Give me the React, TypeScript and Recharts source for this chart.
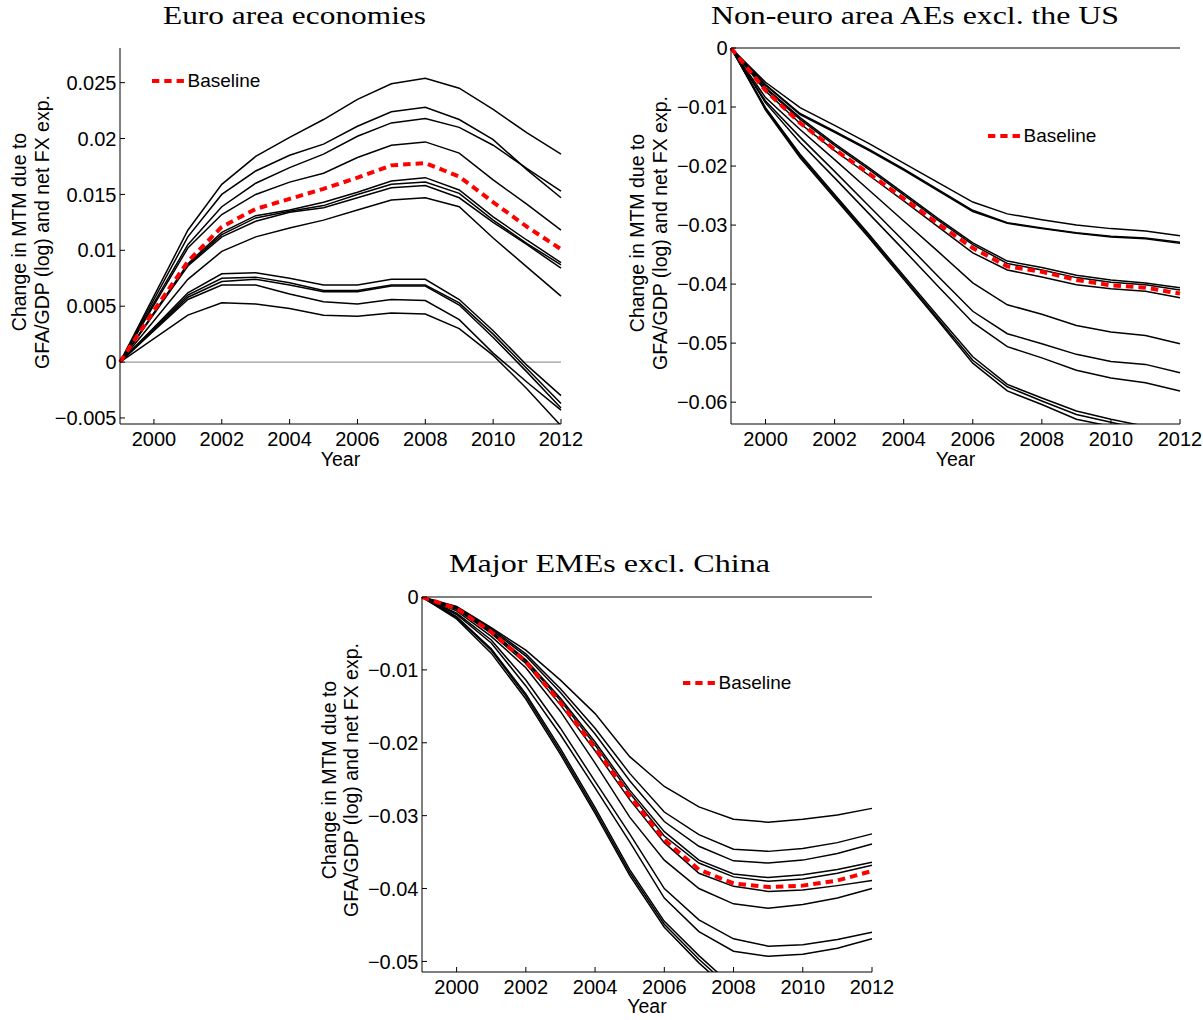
import { Legend, Line, LineChart, ReferenceLine, XAxis, YAxis } from "recharts"

const SANS = "'Liberation Sans', Arial, Helvetica, sans-serif"
const SERIF = "'Liberation Serif', 'Times New Roman', serif"

const years = [1999, 2000, 2001, 2002, 2003, 2004, 2005, 2006, 2007, 2008, 2009, 2010, 2011, 2012]
const yearTicks = [2000, 2002, 2004, 2006, 2008, 2010, 2012]

// Euro area economies
const euroTicks = [-0.005, 0, 0.005, 0.01, 0.015, 0.02, 0.025]
const euroBaseline = [0, 0.0046, 0.009, 0.0121, 0.0137, 0.0146, 0.0155, 0.0165, 0.0176, 0.0178, 0.0166, 0.0143, 0.0121, 0.0101]
const euroPaths: number[][] = [
  [0, 0.0059, 0.0118, 0.0159, 0.0184, 0.0201, 0.0217, 0.0235, 0.0249, 0.0254, 0.0245, 0.0226, 0.0205, 0.0186],
  [0, 0.0056, 0.0112, 0.015, 0.0171, 0.0185, 0.0195, 0.0211, 0.0224, 0.0228, 0.0217, 0.0199, 0.0172, 0.0147],
  [0, 0.0053, 0.0105, 0.0139, 0.016, 0.0174, 0.0186, 0.0202, 0.0214, 0.0218, 0.021, 0.0194, 0.0173, 0.0153],
  [0, 0.0051, 0.0102, 0.0132, 0.015, 0.0161, 0.0169, 0.0183, 0.0194, 0.0197, 0.0187, 0.0163, 0.0141, 0.0118],
  [0, 0.0044, 0.0088, 0.0116, 0.0131, 0.0136, 0.0143, 0.0152, 0.0162, 0.0165, 0.0154, 0.013, 0.0109, 0.0089],
  [0, 0.0044, 0.0087, 0.0114, 0.0129, 0.0135, 0.014, 0.015, 0.0159, 0.0161, 0.0151, 0.0127, 0.0106, 0.0087],
  [0, 0.0043, 0.0086, 0.0112, 0.0126, 0.0134, 0.0138, 0.0147, 0.0156, 0.0158, 0.0147, 0.0125, 0.0105, 0.0084],
  [0, 0.0037, 0.0074, 0.0099, 0.0112, 0.012, 0.0127, 0.0136, 0.0145, 0.0147, 0.0139, 0.0111, 0.0085, 0.0059],
  [0, 0.0031, 0.0062, 0.0079, 0.008, 0.0075, 0.0069, 0.0069, 0.0074, 0.0074, 0.0056, 0.0028, -0.0003, -0.003],
  [0, 0.003, 0.006, 0.0075, 0.0076, 0.0071, 0.0064, 0.0064, 0.0069, 0.0069, 0.0053, 0.0025, -0.0006, -0.0037],
  [0, 0.0029, 0.0058, 0.0072, 0.0074, 0.0069, 0.0063, 0.0063, 0.0068, 0.0068, 0.0051, 0.0022, -0.0009, -0.0041],
  [0, 0.0028, 0.0056, 0.0069, 0.0069, 0.0061, 0.0054, 0.0052, 0.0056, 0.0055, 0.0038, 0.0008, -0.0018, -0.0043],
  [0, 0.0021, 0.0042, 0.0053, 0.0052, 0.0048, 0.0042, 0.0041, 0.0044, 0.0043, 0.003, 0.0006, -0.0024, -0.0057],
]

// Non-euro area advanced economies excluding the US
const nonEuroTicks = [-0.06, -0.05, -0.04, -0.03, -0.02, -0.01, 0]
const nonEuroBaseline = [0, -0.0072, -0.0127, -0.0172, -0.0213, -0.0255, -0.0298, -0.0339, -0.037, -0.0379, -0.0393, -0.0402, -0.0406, -0.0416]
const nonEuroPaths: number[][] = [
  [0, -0.0058, -0.0101, -0.0131, -0.0162, -0.0195, -0.0228, -0.0261, -0.0281, -0.0291, -0.03, -0.0306, -0.031, -0.0318],
  [0, -0.0062, -0.0111, -0.0141, -0.0172, -0.0205, -0.024, -0.0275, -0.0296, -0.0305, -0.0313, -0.0319, -0.0322, -0.0329],
  [0, -0.0063, -0.0113, -0.0143, -0.0174, -0.0207, -0.0242, -0.0277, -0.0297, -0.0306, -0.0314, -0.032, -0.0323, -0.0331],
  [0, -0.0067, -0.0118, -0.0162, -0.0203, -0.0246, -0.0289, -0.033, -0.0361, -0.0372, -0.0385, -0.0393, -0.0398, -0.0406],
  [0, -0.0069, -0.0121, -0.0165, -0.0206, -0.0249, -0.0292, -0.0333, -0.0365, -0.0376, -0.0389, -0.0397, -0.0401, -0.041],
  [0, -0.0073, -0.0128, -0.0174, -0.0216, -0.0259, -0.0303, -0.0347, -0.0376, -0.0388, -0.0401, -0.0408, -0.0412, -0.0423],
  [0, -0.0084, -0.0138, -0.0189, -0.0241, -0.0293, -0.0345, -0.0398, -0.0435, -0.0451, -0.047, -0.0481, -0.0487, -0.0501],
  [0, -0.009, -0.0151, -0.0209, -0.0268, -0.0327, -0.0387, -0.0446, -0.0484, -0.0501, -0.0519, -0.0531, -0.0536, -0.055],
  [0, -0.0093, -0.016, -0.022, -0.0281, -0.0342, -0.0404, -0.0465, -0.0506, -0.0525, -0.0546, -0.0559, -0.0567, -0.0581],
  [0, -0.0101, -0.018, -0.0248, -0.0316, -0.0386, -0.0455, -0.0523, -0.057, -0.0593, -0.0615, -0.0629, -0.0641, -0.0652],
  [0, -0.0103, -0.0183, -0.0251, -0.0319, -0.0389, -0.0459, -0.0529, -0.0574, -0.0598, -0.0621, -0.0634, -0.0647, -0.0658],
  [0, -0.0105, -0.0186, -0.0254, -0.0322, -0.0392, -0.0462, -0.0534, -0.0581, -0.0604, -0.0629, -0.0641, -0.0654, -0.0666],
]

// Major emerging market economies excluding China
const emeTicks = [-0.05, -0.04, -0.03, -0.02, -0.01, 0]
const emeBaseline = [0, -0.0016, -0.0048, -0.0089, -0.0145, -0.0207, -0.0273, -0.0333, -0.0374, -0.0393, -0.0398, -0.0396, -0.0389, -0.0376]
const emePaths: number[][] = [
  [0, -0.0013, -0.0042, -0.0073, -0.0114, -0.016, -0.0219, -0.026, -0.0288, -0.0305, -0.0309, -0.0305, -0.0299, -0.029],
  [0, -0.0014, -0.0043, -0.0078, -0.0126, -0.018, -0.0242, -0.0295, -0.0326, -0.0346, -0.0349, -0.0345, -0.0337, -0.0325],
  [0, -0.0015, -0.0045, -0.0081, -0.0131, -0.0188, -0.0252, -0.0308, -0.0342, -0.0362, -0.0365, -0.0361, -0.0352, -0.0339],
  [0, -0.0016, -0.0047, -0.0086, -0.0139, -0.0199, -0.0265, -0.0322, -0.0361, -0.038, -0.0385, -0.0381, -0.0374, -0.0364],
  [0, -0.0016, -0.0048, -0.0088, -0.0142, -0.0203, -0.0269, -0.0328, -0.0365, -0.0384, -0.039, -0.0387, -0.0379, -0.0368],
  [0, -0.0017, -0.005, -0.0091, -0.0148, -0.0211, -0.0278, -0.0337, -0.0379, -0.0397, -0.0404, -0.0402, -0.0396, -0.0389],
  [0, -0.0019, -0.0054, -0.0097, -0.0157, -0.0228, -0.0302, -0.0361, -0.04, -0.0421, -0.0427, -0.0422, -0.0413, -0.04],
  [0, -0.0022, -0.0059, -0.0114, -0.018, -0.0253, -0.0325, -0.04, -0.0443, -0.0469, -0.0479, -0.0477, -0.047, -0.046],
  [0, -0.0024, -0.0063, -0.0122, -0.0189, -0.0262, -0.0336, -0.0413, -0.0459, -0.0486, -0.0493, -0.049, -0.0482, -0.0469],
  [0, -0.0027, -0.0071, -0.0133, -0.0208, -0.0289, -0.0374, -0.0445, -0.0492, -0.0535, -0.0565, -0.059, -0.061, -0.0628],
  [0, -0.0028, -0.0073, -0.0136, -0.0212, -0.0293, -0.0378, -0.0449, -0.0497, -0.054, -0.057, -0.0595, -0.0615, -0.0633],
  [0, -0.003, -0.0077, -0.014, -0.0216, -0.0297, -0.0382, -0.0453, -0.0502, -0.0545, -0.0575, -0.06, -0.062, -0.0638],
]

type Row = Record<string, number>

function buildRows(baseline: number[], paths: number[][]): Row[] {
  return years.map((year, i) => {
    const row: Row = { year, baseline: baseline[i] }
    paths.forEach((path, k) => {
      row[`p${k}`] = path[i]
    })
    return row
  })
}

function formatTick(value: number): string {
  if (value === 0) return "0"
  return String(value).replace("-", "\u2212")
}

type PanelConfig = {
  title: string
  titleX: number
  titleY: number
  titleWidth: number
  left: number
  top: number
  width: number
  height: number
  margin: { top: number; right: number; bottom: number; left: number }
  yDomain: [number, number]
  yTicks: number[]
  baseline: number[]
  paths: number[][]
  zeroColor: string
  yLabelX: [number, number]
  yLabelY: number
  yearY: number
  legendLeft: number
  legendTop: number
}

const panels: PanelConfig[] = [
  {
    title: "Euro area economies",
    titleX: 294.5,
    titleY: 24,
    titleWidth: 263,
    left: 0,
    top: 0,
    width: 600,
    height: 480,
    margin: { top: 48, right: 39, bottom: 26, left: 60 },
    yDomain: [-0.00554, 0.0281],
    yTicks: euroTicks,
    baseline: euroBaseline,
    paths: euroPaths,
    zeroColor: "#7f7f7f",
    yLabelX: [26, 49],
    yLabelY: 232,
    yearY: 466,
    legendLeft: 152,
    legendTop: 70,
  },
  {
    title: "Non-euro area AEs excl. the US",
    titleX: 915,
    titleY: 24,
    titleWidth: 408,
    left: 600,
    top: 0,
    width: 603,
    height: 480,
    margin: { top: 48, right: 23, bottom: 26, left: 71 },
    yDomain: [-0.0637, 0],
    yTicks: nonEuroTicks,
    baseline: nonEuroBaseline,
    paths: nonEuroPaths,
    zeroColor: "#000",
    yLabelX: [44, 67],
    yLabelY: 233,
    yearY: 466,
    legendLeft: 388,
    legendTop: 125,
  },
  {
    title: "Major EMEs excl. China",
    titleX: 609.5,
    titleY: 572,
    titleWidth: 321,
    left: 300,
    top: 540,
    width: 600,
    height: 480,
    margin: { top: 57, right: 28, bottom: 18, left: 62 },
    yDomain: [-0.05145, 0],
    yTicks: emeTicks,
    baseline: emeBaseline,
    paths: emePaths,
    zeroColor: "#000",
    yLabelX: [36, 58],
    yLabelY: 240,
    yearY: 473,
    legendLeft: 383,
    legendTop: 132,
  },
]

function BaselineLegend(props: any) {
  const items = (props.payload ?? []).filter((item: any) => item.dataKey === "baseline")
  return (
    <div>
      {items.map((item: any) => (
        <div key={item.value} style={{ display: "flex", alignItems: "center", height: 22 }}>
          <svg width={32} height={6}>
            <line x1={0} y1={3} x2={32} y2={3} stroke="#ff0000" strokeWidth={4} strokeDasharray="7.3 5" />
          </svg>
          <span style={{ marginLeft: 3.5, fontFamily: SANS, fontSize: 19, lineHeight: "22px", color: "#000" }}>
            {item.value}
          </span>
        </div>
      ))}
    </div>
  )
}

// rotated two-line title for the value axis; own prop names so the axis
// doesn't overwrite them when it clones the label
function YAxisTitle({ lineX, midY }: { lineX: [number, number]; midY: number }) {
  return (
    <g fontFamily={SANS} fontSize={19.5} fill="#000" textAnchor="middle">
      <text x={lineX[0]} y={midY} transform={`rotate(-90, ${lineX[0]}, ${midY})`}>
        Change in MTM due to
      </text>
      <text x={lineX[1]} y={midY} transform={`rotate(-90, ${lineX[1]}, ${midY})`}>
        GFA/GDP (log) and net FX exp.
      </text>
    </g>
  )
}

function XAxisTitle({ midX, baseY }: { midX: number; baseY: number }) {
  return (
    <text x={midX} y={baseY} textAnchor="middle" fontFamily={SANS} fontSize={19.5} fill="#000">
      Year
    </text>
  )
}

function Panel({ cfg }: { cfg: PanelConfig }) {
  const data = buildRows(cfg.baseline, cfg.paths)
  const plotLeft = cfg.margin.left + 60
  const plotRight = cfg.width - cfg.margin.right
  const tickStyle = { fill: "#000", fontSize: 20, fontFamily: SANS }

  return (
    <div style={{ position: "absolute", left: cfg.left, top: cfg.top, width: cfg.width, height: cfg.height }}>
      <LineChart width={cfg.width} height={cfg.height} data={data} margin={cfg.margin}>
        <XAxis
          dataKey="year"
          type="number"
          domain={[1999, 2012]}
          ticks={yearTicks}
          interval={0}
          height={30}
          tickSize={-5}
          tickMargin={13}
          tick={tickStyle}
          axisLine={{ stroke: "#000" }}
          tickLine={{ stroke: "#000" }}
          label={<XAxisTitle midX={(plotLeft + plotRight) / 2} baseY={cfg.yearY} />}
        />
        <YAxis
          type="number"
          domain={cfg.yDomain}
          allowDataOverflow
          ticks={cfg.yTicks}
          interval={0}
          width={60}
          tickSize={-5}
          tickMargin={8.5}
          tick={tickStyle}
          tickFormatter={formatTick}
          axisLine={{ stroke: "#000" }}
          tickLine={{ stroke: "#000" }}
          label={<YAxisTitle lineX={cfg.yLabelX} midY={cfg.yLabelY} />}
        />
        <ReferenceLine y={0} stroke={cfg.zeroColor} strokeWidth={1} />
        {cfg.paths.map((_, k) => (
          <Line
            key={k}
            dataKey={`p${k}`}
            stroke="#000"
            strokeWidth={1.5}
            dot={false}
            activeDot={false}
            legendType="none"
            isAnimationActive={false}
          />
        ))}
        <Line
          dataKey="baseline"
          name="Baseline"
          stroke="#ff0000"
          strokeWidth={4}
          strokeDasharray="7.5 5"
          dot={false}
          activeDot={false}
          isAnimationActive={false}
        />
        <Legend
          layout="horizontal"
          verticalAlign="middle"
          align="center"
          content={<BaselineLegend />}
          wrapperStyle={{ left: cfg.legendLeft, top: cfg.legendTop, bottom: "auto", width: "auto" }}
        />
      </LineChart>
    </div>
  )
}

export default function App() {
  return (
    <div style={{ position: "absolute", left: 0, top: 0, width: 1203, height: 1020, background: "#fff" }}>
      <svg width={1203} height={1020} style={{ position: "absolute", left: 0, top: 0 }}>
        {panels.map((cfg) => (
          <text
            key={cfg.title}
            x={cfg.titleX}
            y={cfg.titleY}
            textAnchor="middle"
            fontFamily={SERIF}
            fontSize={26}
            textLength={cfg.titleWidth}
            lengthAdjust="spacingAndGlyphs"
            fill="#000"
          >
            {cfg.title}
          </text>
        ))}
      </svg>
      {panels.map((cfg) => (
        <Panel key={cfg.title} cfg={cfg} />
      ))}
    </div>
  )
}
